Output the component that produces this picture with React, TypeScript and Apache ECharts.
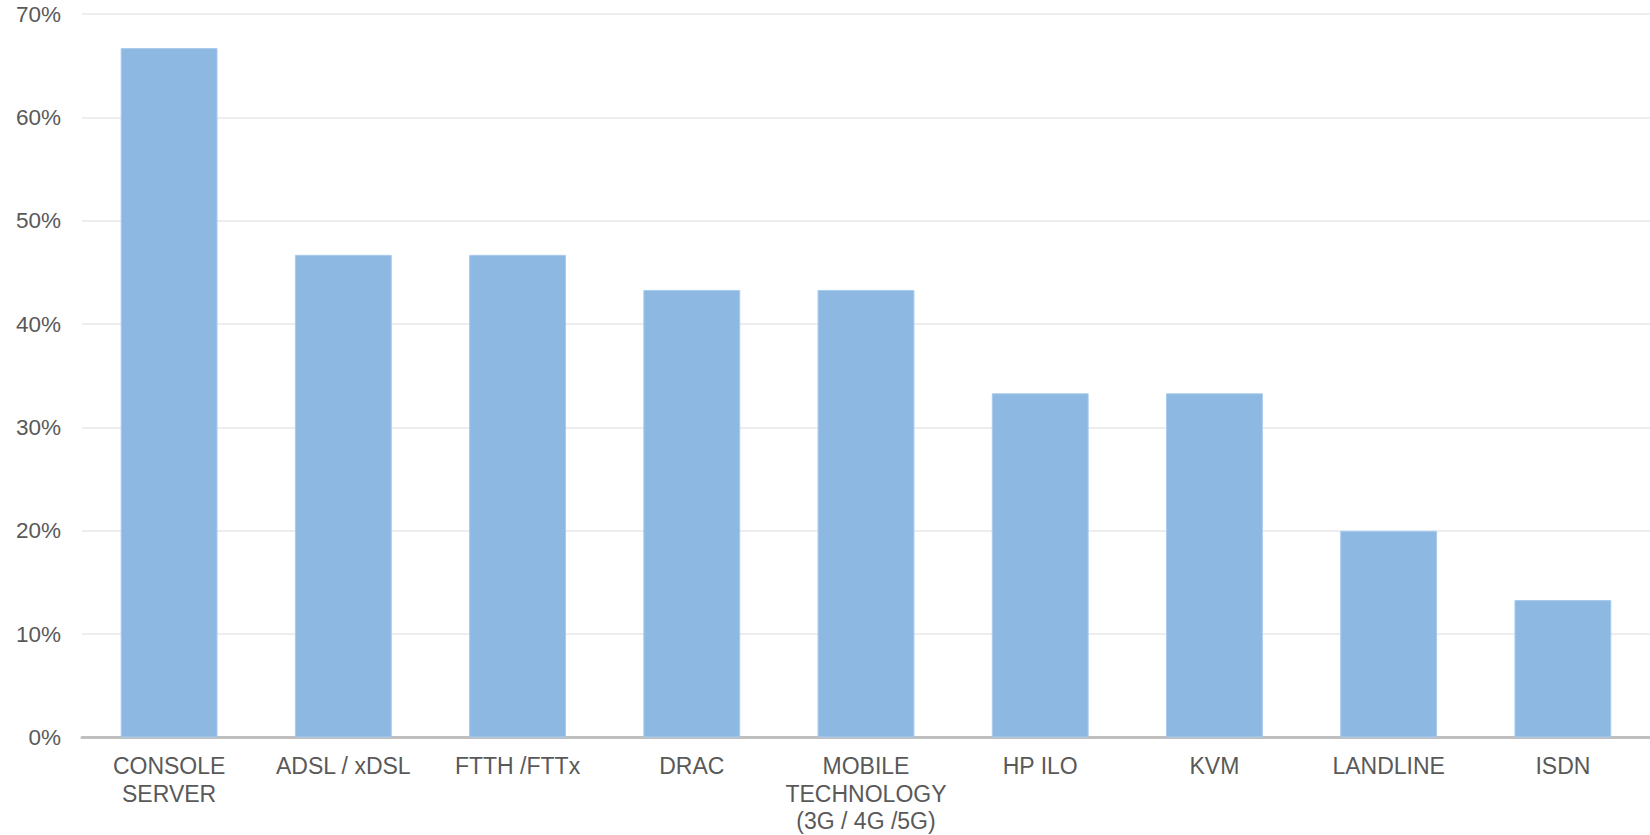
import React, { useEffect, useRef } from "react";
import * as echarts from "echarts";

const categories = [
  "CONSOLE\nSERVER",
  "ADSL / xDSL",
  "FTTH /FTTx",
  "DRAC",
  "MOBILE\nTECHNOLOGY\n(3G / 4G /5G)",
  "HP ILO",
  "KVM",
  "LANDLINE",
  "ISDN",
];
const values = [66.7, 46.7, 46.7, 43.3, 43.3, 33.3, 33.3, 20.0, 13.3];
const yTicks = { min: 0, max: 70, interval: 10 };

export default function App() {
  const ref = useRef<HTMLDivElement>(null);
  useEffect(() => {
    if (!ref.current) return;
    const chart = echarts.init(ref.current, undefined, { renderer: "svg" });
    chart.setOption({
      animation: false,
      backgroundColor: "#ffffff",
      grid: { left: 82, right: 0, top: 14, bottom: 95 },
      xAxis: {
        type: "category",
        data: categories,
        axisLine: { lineStyle: { color: "#BFBFBF", width: 3 } },
        axisTick: { show: false },
        axisLabel: {
          color: "#595959",
          fontFamily: "Liberation Sans, Arial, sans-serif",
          fontSize: 23,
          lineHeight: 27.5,
          margin: 15,
          interval: 0,
        },
      },
      yAxis: {
        type: "value",
        min: yTicks.min,
        max: yTicks.max,
        interval: yTicks.interval,
        axisLine: { show: false },
        axisTick: { show: false },
        splitLine: { lineStyle: { color: "#EDEDED", width: 2 } },
        axisLabel: {
          color: "#595959",
          fontFamily: "Liberation Sans, Arial, sans-serif",
          fontSize: 22.5,
          margin: 21,
          formatter: (v: number) => `${v}%`,
        },
      },
      series: [
        {
          type: "bar",
          data: values,
          barWidth: "55.6%",
          itemStyle: { color: "#8DB8E2", borderColor: "#A9CBEE", borderWidth: 1 },
        },
      ],
    });
    return () => chart.dispose();
  }, []);
  return (
    <div
      ref={ref}
      style={{ position: "absolute", left: 0, top: 0, width: 1650, height: 835 }}
    />
  );
}
